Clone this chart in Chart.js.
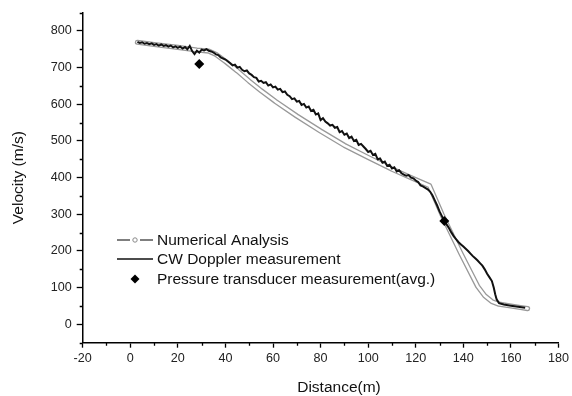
<!DOCTYPE html>
<html>
<head>
<meta charset="utf-8">
<script src="https://cdn.jsdelivr.net/npm/chart.js@4.4.1/dist/chart.umd.min.js"></script>
<style>
    body { margin: 0; background: #fff; }
    canvas { display: block; }
</style>
</head>
<body>
<canvas id="velocityChart" width="572" height="396"></canvas>
<script>
// Numerical analysis (distance m, velocity m/s)
const numDist = [3, 10, 20, 28, 33, 36, 40, 45, 50, 55, 61, 70, 80, 90, 100, 110, 118, 125.8, 131, 139, 146, 149, 152, 155, 160, 164, 167];
const numVel = [769, 763, 755, 748, 745, 736, 717, 691, 663, 637, 608, 568, 527, 488, 455, 423, 400, 378, 300, 193, 104, 78, 62, 55, 50, 46, 43];

// CW Doppler measurement
const dopDist = [3, 4, 5, 6, 7, 8, 9, 10, 11, 12, 13, 14, 15, 16, 17, 18, 19, 20, 21, 22, 23, 24, 25, 26, 27, 28, 29, 30,
    31, 32, 33, 34, 35, 36, 37, 38, 40, 42, 43, 44, 45, 46, 47, 48, 49, 50, 51, 52, 53, 54, 55, 56, 57, 58, 59, 60,
    61, 62, 63, 64, 65, 66, 67, 68, 69, 70, 71, 72, 73, 74, 75, 76, 77, 78, 79, 80, 81, 82, 83, 84, 85, 86, 87, 88,
    89, 90, 91, 92, 93, 94, 95, 96, 97, 98, 99, 100, 101, 102, 103, 104, 105, 106, 107, 108, 109, 110, 111, 112,
    113, 114, 115, 116, 117, 118, 119, 120, 121, 122, 123, 124, 125, 126, 127, 128, 129, 130, 131, 132, 133, 134,
    135, 136, 137, 138, 139, 140, 141, 142, 143, 144, 145, 146, 147, 148, 149, 150, 151, 152, 152.8, 153.4, 154,
    155, 157, 160, 163, 166];
const dopVel = [770, 767, 769, 765, 767, 764, 766, 762, 764, 760, 763, 759, 761, 757, 760, 755, 758, 754, 757, 752, 756, 750, 759, 745, 737, 746, 741, 749,
    747, 750, 746, 744, 741, 736, 734, 728, 722, 712, 706, 708, 700, 702, 694, 690, 692, 684, 680, 674, 672, 662, 664, 658, 660, 651, 654, 646,
    648, 640, 642, 633, 635, 626, 622, 614, 616, 607, 609, 598, 601, 591, 594, 582, 585, 572, 575, 557, 562, 553, 548, 542, 544, 536, 538, 524,
    527, 517, 520, 508, 512, 500, 503, 489, 492, 485, 478, 470, 473, 462, 465, 450, 452, 441, 444, 432, 435, 425, 428, 417,
    420, 412, 408, 405, 407, 400, 398, 392, 388, 379, 376, 372, 368, 362, 352, 338, 324, 308, 295, 282, 272, 262,
    250, 240, 232, 224, 218, 212, 206, 200, 193, 186, 180, 174, 167, 160, 150, 138, 128, 118, 100, 82, 68,
    58, 54, 51, 48, 45];

// Pressure transducer measurement (avg.)
const presDist = [29, 132];
const presVel = [710, 282];

// Axes
const xTicks = [-20, 0, 20, 40, 60, 80, 100, 120, 140, 160, 180];
const xMinor = [-10, 10, 30, 50, 70, 90, 110, 130, 150, 170];
const yTicks = [0, 100, 200, 300, 400, 500, 600, 700, 800];
const yMinor = [-50, 50, 150, 250, 350, 450, 550, 650, 750, 850];

const legendLabels = ['Numerical Analysis', 'CW Doppler measurement', 'Pressure transducer measurement(avg.)'];

const toPoints = (xs, ys) => xs.map((x, i) => ({ x: x, y: ys[i] }));

const FONT = "'Liberation Sans', Arial, sans-serif";
Chart.defaults.font.family = FONT;

/**
 * Minor ticks, x-axis title and the legend box
 */
const extras = {
    id: 'extras',
    afterDraw(chart) {
        const { ctx, scales: { x, y } } = chart;
        ctx.save();

        // minor ticks
        ctx.strokeStyle = '#000';
        ctx.lineWidth = 1.3;
        ctx.beginPath();
        xMinor.forEach(v => {
            const px = Math.round(x.getPixelForValue(v)) + 0.5;
            ctx.moveTo(px, x.top);
            ctx.lineTo(px, x.top + 3);
        });
        yMinor.forEach(v => {
            const py = Math.round(y.getPixelForValue(v)) + 0.5;
            ctx.moveTo(y.right - 3, py);
            ctx.lineTo(y.right, py);
        });
        ctx.stroke();

        // x axis title
        ctx.fillStyle = '#111';
        ctx.font = '15.5px ' + FONT;
        ctx.textAlign = 'center';
        ctx.textBaseline = 'middle';
        ctx.fillText('Distance(m)', 339, 388);

        // legend
        const lx = 117, tx = 157;
        const rows = [240, 259, 279];
        ctx.textAlign = 'left';

        // numerical: dash - circle - dash
        ctx.strokeStyle = '#555';
        ctx.lineWidth = 1.5;
        ctx.beginPath();
        ctx.moveTo(lx, rows[0]); ctx.lineTo(lx + 13, rows[0]);
        ctx.moveTo(lx + 23, rows[0]); ctx.lineTo(lx + 36, rows[0]);
        ctx.stroke();
        ctx.strokeStyle = '#888';
        ctx.lineWidth = 1;
        ctx.beginPath();
        ctx.arc(lx + 18, rows[0], 2.2, 0, Math.PI * 2);
        ctx.fillStyle = '#fff';
        ctx.fill();
        ctx.stroke();

        // doppler: solid line
        ctx.strokeStyle = '#111';
        ctx.lineWidth = 1.6;
        ctx.beginPath();
        ctx.moveTo(lx, rows[1]); ctx.lineTo(lx + 36, rows[1]);
        ctx.stroke();

        // pressure: diamond
        ctx.fillStyle = '#000';
        ctx.beginPath();
        ctx.moveTo(lx + 18, rows[2] - 4.5);
        ctx.lineTo(lx + 22.5, rows[2]);
        ctx.lineTo(lx + 18, rows[2] + 4.5);
        ctx.lineTo(lx + 13.5, rows[2]);
        ctx.closePath();
        ctx.fill();

        ctx.fillStyle = '#111';
        ctx.font = '15.5px ' + FONT;
        legendLabels.forEach((t, i) => ctx.fillText(t, tx, rows[i] + 1));

        ctx.restore();
    }
};

new Chart(document.getElementById('velocityChart'), {
    type: 'scatter',
    data: {
        datasets: [
            {
                label: legendLabels[2],
                data: toPoints(presDist, presVel),
                pointStyle: 'rectRot',
                pointRadius: 5,
                backgroundColor: '#000',
                borderColor: '#000',
                borderWidth: 0,
                order: 0
            },
            {
                label: legendLabels[1],
                data: toPoints(dopDist, dopVel),
                showLine: true,
                borderColor: '#111',
                borderWidth: 2,
                pointRadius: 0,
                tension: 0,
                order: 1
            },
            {
                label: legendLabels[0] + ' (inner)',
                data: toPoints(numDist, numVel),
                showLine: true,
                borderColor: '#fff',
                borderWidth: 2.6,
                borderCapStyle: 'round',
                borderJoinStyle: 'round',
                pointRadius: 0,
                order: 2
            },
            {
                label: legendLabels[0],
                data: toPoints(numDist, numVel),
                showLine: true,
                borderColor: '#999',
                borderWidth: 5.2,
                borderCapStyle: 'round',
                borderJoinStyle: 'round',
                pointRadius: 0,
                order: 3
            }
        ]
    },
    options: {
        responsive: false,
        animation: false,
        layout: {
            padding: { left: 0, right: 10.7, top: 11.2, bottom: 0 }
        },
        plugins: {
            legend: { display: false },
            tooltip: { enabled: false }
        },
        scales: {
            x: {
                type: 'linear',
                min: -20,
                max: 180,
                afterBuildTicks: scale => { scale.ticks = xTicks.map(v => ({ value: v })); },
                afterFit: scale => { scale.height = 53.3; },
                border: { display: true, color: '#000', width: 1.5 },
                grid: {
                    display: true,
                    drawOnChartArea: false,
                    drawTicks: true,
                    tickLength: 5,
                    tickColor: '#000',
                    tickWidth: 1.3
                },
                ticks: {
                    color: '#222',
                    padding: 3,
                    maxRotation: 0,
                    font: { size: 12.6 }
                },
                title: { display: false }
            },
            y: {
                type: 'linear',
                min: -50,
                max: 850,
                afterBuildTicks: scale => { scale.ticks = yTicks.map(v => ({ value: v })); },
                afterFit: scale => { scale.width = 82.7; },
                border: { display: true, color: '#000', width: 1.5 },
                grid: {
                    display: true,
                    drawOnChartArea: false,
                    drawTicks: true,
                    tickLength: 6,
                    tickColor: '#000',
                    tickWidth: 1.3
                },
                ticks: {
                    color: '#222',
                    padding: 5,
                    font: { size: 12.6 }
                },
                title: {
                    display: true,
                    text: 'Velocity (m/s)',
                    color: '#111',
                    font: { size: 15.5 },
                    padding: { top: 9, bottom: 0 }
                }
            }
        }
    },
    plugins: [extras]
});
</script>
</body>
</html>
